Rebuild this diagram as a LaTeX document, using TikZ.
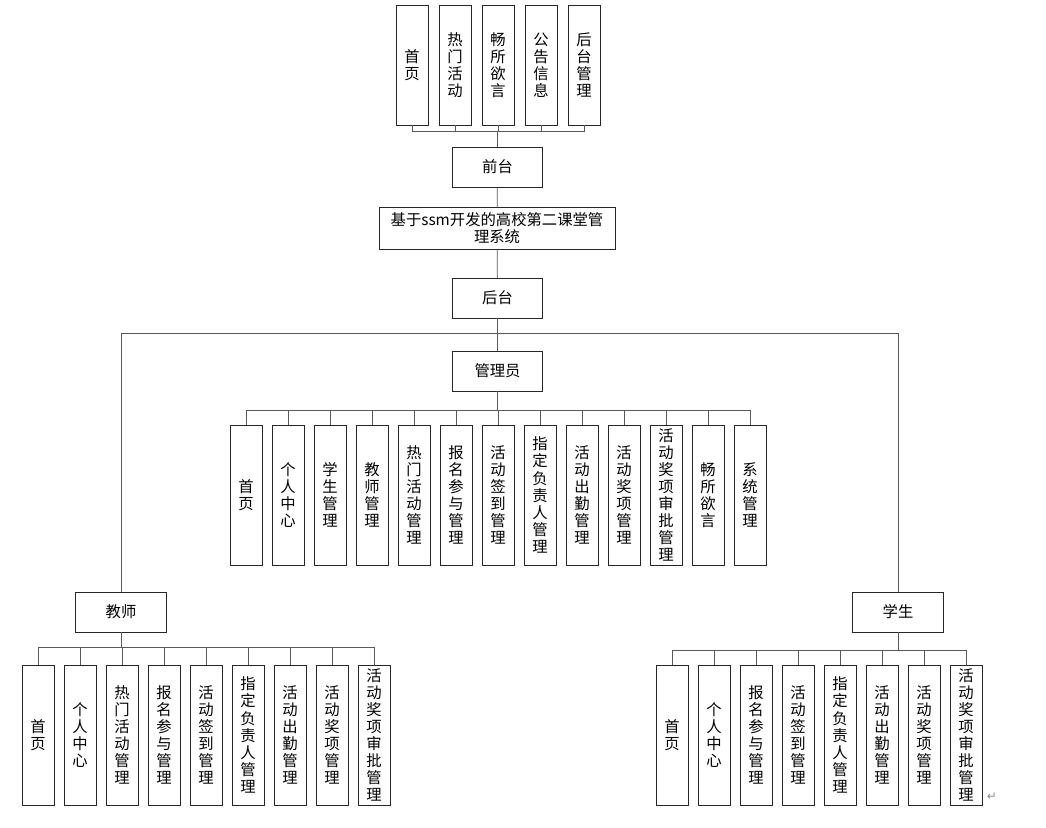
\documentclass[tikz,border=0pt]{standalone}
\usepackage{fontspec}
\newfontfamily\cjk{Noto Sans CJK SC}
\newfontfamily\symfont{DejaVu Sans}
\usepackage{tikz}
\usetikzlibrary{positioning}

\tikzset{
    box/.style={draw=black!85, line width=0.6pt, inner sep=0pt, align=center,
        font=\cjk\fontsize{11.5pt}{12.8pt}\selectfont},
    leaf/.style={box, minimum width=24pt, minimum height=105pt},
    head/.style={box, minimum width=68pt, minimum height=30pt},
    link/.style={draw=black!65, line width=0.6pt}
}

\begin{document}
\begin{tikzpicture}[x=0.75pt,y=-0.75pt]
    \useasboundingbox (0,0) rectangle (1046,828);
    % Front part
    \foreach \t [count=\i] in {首\\页,热\\门\\活\\动,畅\\所\\欲\\言,公\\告\\信\\息,后\\台\\管\\理}
        \node[leaf, minimum height=90pt] (f\i) at (369+43*\i,65) {\t};
    \node[head] (front) at (497.5,167) {前台};
    \node[box, minimum width=177pt, minimum height=31pt] (sys) at (497,228.5)
        {基于ssm开发的高校第二课堂管\\理系统};
    \node[head] (back) at (497.5,298) {后台};
    \foreach \i in {1,...,5}
        \draw[link] (front.north) -- ++(0,-15) -| (f\i.south);
    \draw[link] (front) -- (sys);
    \draw[link] (sys) -- (back);
    % Roles
    \node[head] (adm) at (497.5,371) {管理员};
    \node[head] (teacher) at (121,612) {教师};
    \node[head] (student) at (898,612) {学生};
    \draw[link] (back) -- (adm);
    \draw[link] (back.south) -- ++(0,15) -| (teacher.north);
    \draw[link] (back.south) -- ++(0,15) -| (student.north);
    % Admin modules
    \foreach \t [count=\i] in {首\\页,个\\人\\中\\心,学\\生\\管\\理,教\\师\\管\\理,
        热\\门\\活\\动\\管\\理,报\\名\\参\\与\\管\\理,活\\动\\签\\到\\管\\理,
        指\\定\\负\\责\\人\\管\\理,活\\动\\出\\勤\\管\\理,活\\动\\奖\\项\\管\\理,
        活\\动\\奖\\项\\审\\批\\管\\理,畅\\所\\欲\\言,系\\统\\管\\理}
    {
        \node[leaf] (a\i) at (204+42*\i,495) {\t};
        \draw[link] (adm.south) -- ++(0,19) -| (a\i.north);
    }
    % Teacher modules
    \foreach \t [count=\i] in {首\\页,个\\人\\中\\心,热\\门\\活\\动\\管\\理,
        报\\名\\参\\与\\管\\理,活\\动\\签\\到\\管\\理,指\\定\\负\\责\\人\\管\\理,
        活\\动\\出\\勤\\管\\理,活\\动\\奖\\项\\管\\理,活\\动\\奖\\项\\审\\批\\管\\理}
    {
        \node[leaf] (t\i) at (-4+42*\i,735) {\t};
        \draw[link] (teacher.south) -- ++(0,15) -| (t\i.north);
    }
    % Student modules
    \foreach \t [count=\i] in {首\\页,个\\人\\中\\心,报\\名\\参\\与\\管\\理,
        活\\动\\签\\到\\管\\理,指\\定\\负\\责\\人\\管\\理,活\\动\\出\\勤\\管\\理,
        活\\动\\奖\\项\\管\\理,活\\动\\奖\\项\\审\\批\\管\\理}
    {
        \node[leaf] (s\i) at (630+42*\i,735) {\t};
        \draw[link] (student.south) -- ++(0,18) -| (s\i.north);
    }
    \node[text=black!45, font=\symfont\small] (mark) at (992,797) {↵};
\end{tikzpicture}
\end{document}
